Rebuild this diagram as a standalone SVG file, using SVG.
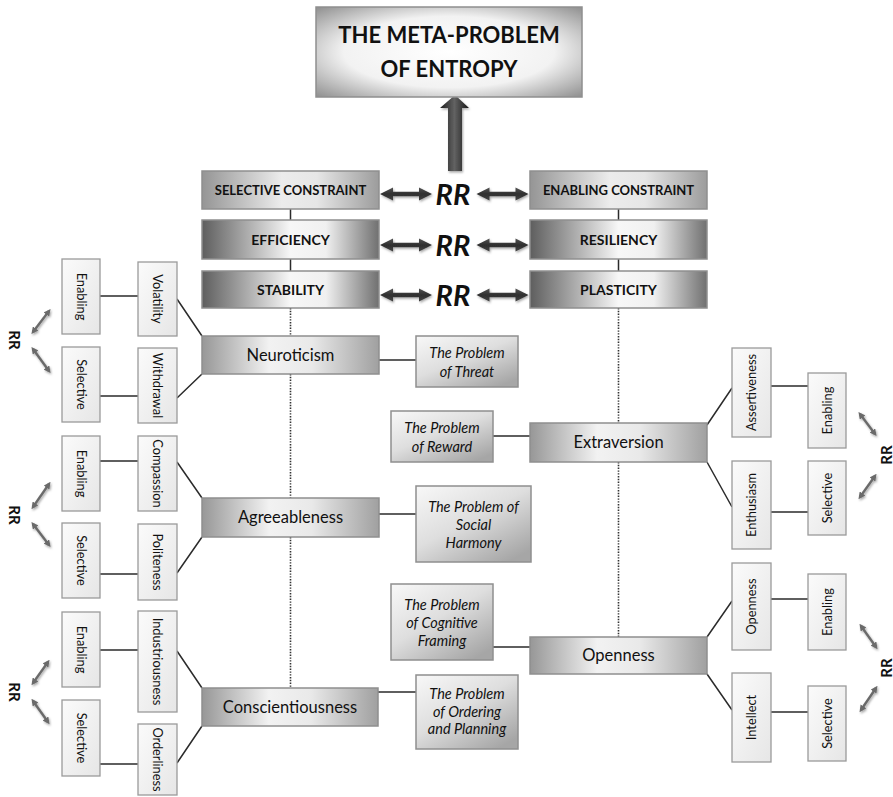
<svg xmlns="http://www.w3.org/2000/svg" xmlns:xlink="http://www.w3.org/1999/xlink" width="893" height="797" viewBox="0 0 893 797">
<defs>
<style>
text{font-family:Lato,"Liberation Sans",sans-serif;fill:#111}
.title{font-weight:bold;font-size:22px;text-anchor:middle}
.hdr{font-weight:bold;font-size:14px;text-anchor:middle}
.hdr2{font-weight:bold;font-size:13px;text-anchor:middle}
.trait{font-size:16.5px;text-anchor:middle}
.prob{font-style:italic;font-size:14.5px;text-anchor:middle}
.facet{font-size:12.8px;text-anchor:middle}
.rr{font-weight:bold;font-style:italic;font-size:29px;text-anchor:middle}
.rrs{font-weight:bold;font-size:15px;text-anchor:middle}
.ln{stroke:#2b2b2b;stroke-width:1.5;fill:none}
.dot{stroke:#333;stroke-width:1.6;stroke-dasharray:1.4 1.4;fill:none}
.bx{stroke:#8f8f8f;stroke-width:1.5}
.fb{fill:url(#gFacet);stroke:#9a9a9a;stroke-width:1.3}
.sa{stroke:#6b6b6b;stroke-width:2.4;fill:none;marker-start:url(#mh);marker-end:url(#mh)}
</style>
<radialGradient id="gTitle" cx="0.5" cy="0.5" r="0.72">
<stop offset="0" stop-color="#ffffff"/><stop offset="0.55" stop-color="#f2f2f2"/><stop offset="1" stop-color="#8a8a8a"/>
</radialGradient>
<linearGradient id="gHdrA" x1="0" y1="0" x2="1" y2="0">
<stop offset="0" stop-color="#959595"/><stop offset="0.45" stop-color="#ececec"/><stop offset="0.65" stop-color="#e6e6e6"/><stop offset="1" stop-color="#9c9c9c"/>
</linearGradient>
<linearGradient id="gHdrB" x1="0" y1="0" x2="1" y2="0">
<stop offset="0" stop-color="#5e5e5e"/><stop offset="0.5" stop-color="#f7f7f7"/><stop offset="0.7" stop-color="#f0f0f0"/><stop offset="1" stop-color="#707070"/>
</linearGradient>
<linearGradient id="gTrait" x1="0" y1="0" x2="1" y2="0">
<stop offset="0" stop-color="#979797"/><stop offset="0.38" stop-color="#f2f2f2"/><stop offset="0.62" stop-color="#e9e9e9"/><stop offset="1" stop-color="#a0a0a0"/>
</linearGradient>
<linearGradient id="gProb" x1="0" y1="0" x2="0.8" y2="1">
<stop offset="0" stop-color="#f8f8f8"/><stop offset="0.5" stop-color="#dedede"/><stop offset="1" stop-color="#a6a6a6"/>
</linearGradient>
<linearGradient id="gFacet" x1="0" y1="0" x2="1" y2="1">
<stop offset="0" stop-color="#fbfbfb"/><stop offset="1" stop-color="#e6e6e6"/>
</linearGradient>
<linearGradient id="gUp" x1="0" y1="0" x2="1" y2="0">
<stop offset="0" stop-color="#1e1e1e"/><stop offset="0.5" stop-color="#626262"/><stop offset="1" stop-color="#161616"/>
</linearGradient>
<linearGradient id="gDbl" x1="0" y1="0" x2="0" y2="1">
<stop offset="0" stop-color="#555"/><stop offset="0.5" stop-color="#2e2e2e"/><stop offset="1" stop-color="#444"/>
</linearGradient>
<filter id="sh" x="-20%" y="-50%" width="140%" height="200%">
<feDropShadow dx="1" dy="1.5" stdDeviation="1.2" flood-color="#000" flood-opacity="0.35"/>
</filter>
<path id="dbl" d="M-26,0 L-13,-6.5 L-13,-2.2 L13,-2.2 L13,-6.5 L26,0 L13,6.5 L13,2.2 L-13,2.2 L-13,6.5 Z" fill="url(#gDbl)"/>
<marker id="mh" viewBox="0 0 8 8" refX="5" refY="4" markerWidth="7" markerHeight="7" markerUnits="userSpaceOnUse" orient="auto-start-reverse">
<path d="M0,0 L8,4 L0,8 Z" fill="#6b6b6b"/>
</marker>
</defs>
<rect width="893" height="797" fill="#fff"/>

<g id="connectors">
<path class="ln" d="M290.5,209V220M290.5,259V271M618.5,209V220M618.5,259V271"/>
<path class="dot" d="M290.5,308V336M290.5,374V498M290.5,537V688M618.5,308V423M618.5,462V637"/>
<path class="ln" d="M100,296H138M100,396H138M177,299L202,336M177,398L202,374M379,360H416"/>
<path class="ln" d="M100,461H138M100,574H138M177,462L202,498M177,573L202,537M379,514H416"/>
<path class="ln" d="M100,650H138M100,764H138M177,651L202,688M177,763L202,726M378,692H416"/>
<path class="ln" d="M493,436H530M707,425L732,388M707,462L732,507M771,386H808M771,512H808"/>
<path class="ln" d="M493,647H530M707,637L732,601M707,674L732,710M771,599H808M771,712H808"/>
<g id="up-arrow" filter="url(#sh)">
<path d="M448,171V108H440L455,95L469,108H462V171Z" fill="url(#gUp)"/>
</g>
<g id="rr-arrows" filter="url(#sh)">
<use href="#dbl" x="406" y="194"/><use href="#dbl" x="502.5" y="194"/>
<use href="#dbl" x="406" y="245"/><use href="#dbl" x="502.5" y="245"/>
<use href="#dbl" x="406" y="295"/><use href="#dbl" x="502.5" y="295"/>
</g>
<g id="small-arrows" filter="url(#sh)">
<line class="sa" x1="33" y1="332" x2="49" y2="311"/>
<line class="sa" x1="33" y1="349" x2="49" y2="371"/>
<line class="sa" x1="33" y1="507" x2="49" y2="484"/>
<line class="sa" x1="33" y1="524" x2="49" y2="545"/>
<line class="sa" x1="33" y1="683" x2="48" y2="662"/>
<line class="sa" x1="33" y1="701" x2="48" y2="722"/>
<line class="sa" x1="860" y1="414" x2="875" y2="434"/>
<line class="sa" x1="875" y1="476" x2="860" y2="497"/>
<line class="sa" x1="861" y1="626" x2="876" y2="647"/>
<line class="sa" x1="876" y1="688" x2="861" y2="710"/>
</g>
</g>

<g id="title">
<rect class="bx" x="316" y="7" width="266" height="90" fill="url(#gTitle)"/>
<text class="title" x="449" y="43">THE META-PROBLEM</text>
<text class="title" x="449" y="77">OF ENTROPY</text>
</g>

<g id="selective-constraint"><rect class="bx" x="202" y="171" width="177" height="38" fill="url(#gHdrA)"/><text class="hdr2" x="290.5" y="195">SELECTIVE CONSTRAINT</text></g>
<g id="enabling-constraint"><rect class="bx" x="530" y="171" width="177" height="38" fill="url(#gHdrA)"/><text class="hdr2" x="618.5" y="195">ENABLING CONSTRAINT</text></g>
<g id="efficiency"><rect class="bx" x="202" y="220" width="177" height="39" fill="url(#gHdrB)"/><text class="hdr" x="290.5" y="245">EFFICIENCY</text></g>
<g id="resiliency"><rect class="bx" x="530" y="220" width="177" height="39" fill="url(#gHdrB)"/><text class="hdr" x="618.5" y="245">RESILIENCY</text></g>
<g id="stability"><rect class="bx" x="202" y="271" width="177" height="37" fill="url(#gHdrB)"/><text class="hdr" x="290.5" y="295">STABILITY</text></g>
<g id="plasticity"><rect class="bx" x="530" y="271" width="177" height="37" fill="url(#gHdrB)"/><text class="hdr" x="618.5" y="295">PLASTICITY</text></g>

<g id="rr-labels">
<text class="rr" x="453" y="205">RR</text>
<text class="rr" x="453" y="256">RR</text>
<text class="rr" x="453" y="306">RR</text>
<text class="rrs" transform="translate(14,340) rotate(90)" dy="5.5">RR</text>
<text class="rrs" transform="translate(14,515) rotate(90)" dy="5.5">RR</text>
<text class="rrs" transform="translate(14,692) rotate(90)" dy="5.5">RR</text>
<text class="rrs" transform="translate(886,455) rotate(-90)" dy="5.5">RR</text>
<text class="rrs" transform="translate(886,668) rotate(-90)" dy="5.5">RR</text>
</g>

<g id="neuroticism"><rect class="bx" x="202" y="336" width="177" height="38" fill="url(#gTrait)"/><text class="trait" x="290.5" y="361">Neuroticism</text></g>
<g id="agreeableness"><rect class="bx" x="202" y="498" width="177" height="39" fill="url(#gTrait)"/><text class="trait" x="290.5" y="523">Agreeableness</text></g>
<g id="conscientiousness"><rect class="bx" x="202" y="688" width="176" height="38" fill="url(#gTrait)"/><text class="trait" x="290" y="713">Conscientiousness</text></g>
<g id="extraversion"><rect class="bx" x="530" y="423" width="177" height="39" fill="url(#gTrait)"/><text class="trait" x="618.5" y="448">Extraversion</text></g>
<g id="openness"><rect class="bx" x="530" y="637" width="177" height="37" fill="url(#gTrait)"/><text class="trait" x="618.5" y="661">Openness</text></g>

<g id="problem-threat"><rect class="bx" x="416" y="336" width="102" height="51" fill="url(#gProb)"/><text class="prob" x="467" y="358">The Problem</text><text class="prob" x="467" y="377">of Threat</text></g>
<g id="problem-reward"><rect class="bx" x="391" y="411" width="102" height="51" fill="url(#gProb)"/><text class="prob" x="442" y="433">The Problem</text><text class="prob" x="442" y="452">of Reward</text></g>
<g id="problem-social-harmony"><rect class="bx" x="416" y="486" width="115" height="76" fill="url(#gProb)"/><text class="prob" x="473.5" y="512">The Problem of</text><text class="prob" x="473.5" y="530">Social</text><text class="prob" x="473.5" y="548">Harmony</text></g>
<g id="problem-cognitive-framing"><rect class="bx" x="391" y="584" width="102" height="76" fill="url(#gProb)"/><text class="prob" x="442" y="610">The Problem</text><text class="prob" x="442" y="628">of Cognitive</text><text class="prob" x="442" y="646">Framing</text></g>
<g id="problem-ordering"><rect class="bx" x="416" y="675" width="102" height="74" fill="url(#gProb)"/><text class="prob" x="467" y="699">The Problem</text><text class="prob" x="467" y="717">of Ordering</text><text class="prob" x="467" y="734">and Planning</text></g>

<g id="n-enabling"><rect class="fb" x="62" y="259" width="38" height="75"/><text class="facet" transform="translate(81,296.5) rotate(90)" dy="4.5">Enabling</text></g>
<g id="n-volatility"><rect class="fb" x="138" y="262" width="39" height="74"/><text class="facet" transform="translate(157.5,299) rotate(90)" dy="4.5">Volatility</text></g>
<g id="n-selective"><rect class="fb" x="62" y="347" width="38" height="75"/><text class="facet" transform="translate(81,384.5) rotate(90)" dy="4.5">Selective</text></g>
<g id="n-withdrawal"><rect class="fb" x="138" y="348" width="39" height="75"/><text class="facet" transform="translate(157.5,385.5) rotate(90)" dy="4.5">Withdrawal</text></g>

<g id="a-enabling"><rect class="fb" x="62" y="436" width="38" height="75"/><text class="facet" transform="translate(81,473.5) rotate(90)" dy="4.5">Enabling</text></g>
<g id="a-compassion"><rect class="fb" x="138" y="436" width="39" height="75"/><text class="facet" transform="translate(157.5,473.5) rotate(90)" dy="4.5">Compassion</text></g>
<g id="a-selective"><rect class="fb" x="62" y="523" width="38" height="75"/><text class="facet" transform="translate(81,560.5) rotate(90)" dy="4.5">Selective</text></g>
<g id="a-politeness"><rect class="fb" x="138" y="524" width="39" height="76"/><text class="facet" transform="translate(157.5,562) rotate(90)" dy="4.5">Politeness</text></g>

<g id="c-enabling"><rect class="fb" x="62" y="612" width="38" height="75"/><text class="facet" transform="translate(81,649.5) rotate(90)" dy="4.5">Enabling</text></g>
<g id="c-industriousness"><rect class="fb" x="138" y="611" width="39" height="101"/><text class="facet" transform="translate(157.5,661.5) rotate(90)" dy="4.5">Industriousness</text></g>
<g id="c-selective"><rect class="fb" x="62" y="700" width="38" height="76"/><text class="facet" transform="translate(81,738) rotate(90)" dy="4.5">Selective</text></g>
<g id="c-orderliness"><rect class="fb" x="138" y="724" width="39" height="71"/><text class="facet" transform="translate(157.5,759.5) rotate(90)" dy="4.5">Orderliness</text></g>

<g id="e-assertiveness"><rect class="fb" x="732" y="348" width="39" height="89"/><text class="facet" transform="translate(751.5,392.5) rotate(-90)" dy="4.5">Assertiveness</text></g>
<g id="e-enabling"><rect class="fb" x="808" y="373" width="38" height="75"/><text class="facet" transform="translate(827,410.5) rotate(-90)" dy="4.5">Enabling</text></g>
<g id="e-enthusiasm"><rect class="fb" x="732" y="461" width="39" height="88"/><text class="facet" transform="translate(751.5,505) rotate(-90)" dy="4.5">Enthusiasm</text></g>
<g id="e-selective"><rect class="fb" x="808" y="461" width="38" height="74"/><text class="facet" transform="translate(827,498) rotate(-90)" dy="4.5">Selective</text></g>

<g id="o-openness"><rect class="fb" x="732" y="563" width="39" height="87"/><text class="facet" transform="translate(751.5,606.5) rotate(-90)" dy="4.5">Openness</text></g>
<g id="o-enabling"><rect class="fb" x="808" y="574" width="38" height="76"/><text class="facet" transform="translate(827,612) rotate(-90)" dy="4.5">Enabling</text></g>
<g id="o-intellect"><rect class="fb" x="732" y="673" width="39" height="89"/><text class="facet" transform="translate(751.5,717.5) rotate(-90)" dy="4.5">Intellect</text></g>
<g id="o-selective"><rect class="fb" x="808" y="686" width="38" height="75"/><text class="facet" transform="translate(827,723.5) rotate(-90)" dy="4.5">Selective</text></g>
</svg>
